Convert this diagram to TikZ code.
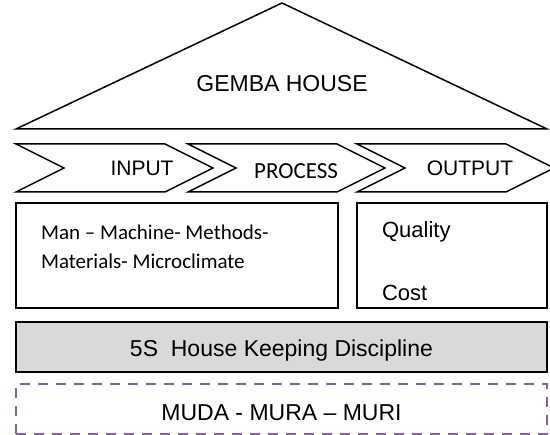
\documentclass[tikz,border=0pt]{standalone}
\usepackage{fontspec}
\setmainfont{Liberation Sans}
\newfontfamily\calibri{Carlito}
\usetikzlibrary{positioning}
\definecolor{mudapurple}{HTML}{8064A2}
\definecolor{fivesgray}{HTML}{D9D9D9}

\begin{document}
\begin{tikzpicture}[
    x=1pt, y=-1pt,
    line width=1.5pt, line join=miter,
    big/.style={font=\fontsize{23}{27}\selectfont},
    mid/.style={font=\fontsize{21}{25}\selectfont},
    cal/.style={font=\calibri\fontsize{21}{25}\selectfont},
    box/.style={draw, inner sep=0pt, minimum height=105pt},
    band/.style={draw, inner sep=0pt, minimum width=531pt, minimum height=50pt},
    chev/.style={draw, line join=miter},
  ]
  \useasboundingbox (0,0) rectangle (550,435);

  % --- Roof ---------------------------------------------------------------
  \coordinate (eaveL) at (16,129);
  \coordinate (ridge) at (282,3);
  \coordinate (eaveR) at (547,129);
  \draw (eaveL) -- (ridge) -- (eaveR) -- cycle;
  \node[big, anchor=base] (gemba) at (282,92) {GEMBA HOUSE};

  % --- Flow chevrons ------------------------------------------------------
  \foreach \x in {16, 188, 357}
    \draw[chev] (\x,144) -- ++(149,0) -- ++(48,24) -- ++(-48,24)
      -- ++(-149,0) -- ++(48,-24) -- cycle;

  \node[mid] (input)   at (142,168) {INPUT};
  \node[cal, font=\calibri\fontsize{23}{27}\selectfont] (process) at (296,171) {PROCESS};
  \node[mid] (output)  at (470,168) {OUTPUT};

  % --- Inputs / outputs ---------------------------------------------------
  \node[box, minimum width=322pt] (inbox)  at (177,255.5) {};
  \node[box, minimum width=190pt] (outbox) at (452,255.5) {};

  \node[cal, anchor=base west] (mline1) at (37,240) {Man – Machine- Methods-};
  \node[cal, anchor=base west] (mline2) at ([yshift=-29pt]mline1.base west)
    {Materials- Microclimate};

  \node[big, font=\fontsize{22}{26}\selectfont, anchor=base west] (quality) at (378,238) {Quality};
  \node[big, font=\fontsize{22}{26}\selectfont, anchor=base west] (cost)    at (378,301) {Cost};

  % --- Foundation bands ---------------------------------------------------
  \node[band, fill=fivesgray] (fives) at (281.5,347) {};
  \node[big, anchor=base] (fivestxt) at (281.5,357) {5S~~House Keeping Discipline};

  \node[band, draw=mudapurple, dash pattern=on 10pt off 8pt] (muda) at (281.5,409) {};
  \node[big, anchor=base] (mudatxt) at (281.5,421) {MUDA - MURA – MURI};

\end{tikzpicture}
\end{document}
